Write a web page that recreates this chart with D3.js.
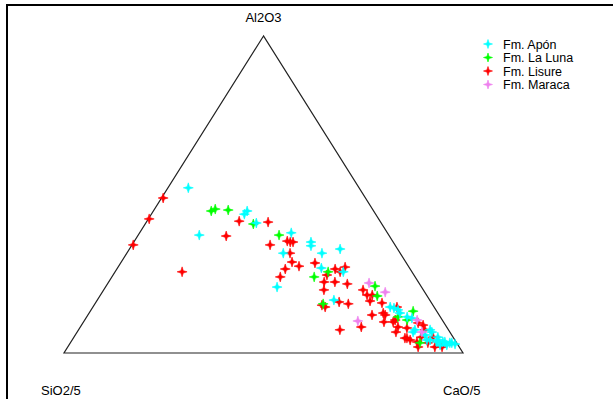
<!DOCTYPE html>
<html>
<head>
<meta charset="utf-8">
<script src="https://cdn.jsdelivr.net/npm/d3@7"></script>
<style>
  html, body { margin: 0; padding: 0; background: #fff; }
  svg { display: block; }
  text { font-family: "Liberation Sans", Arial, Helvetica, sans-serif; fill: #000; }
</style>
</head>
<body>
<svg id="chart" width="613" height="399"></svg>
<script>
// Ternary compositions in percent: [Al2O3, SiO2/5, CaO/5]
const apon = [
  [52.1, 42.8, 5.1], [37.2, 47.5, 15.3], [43.8, 32.9, 23.3], [44.8, 31.7, 23.5],
  [41.0, 31.3, 27.7], [37.9, 24.1, 38.0], [35.0, 20.6, 44.4], [33.8, 21.2, 45.0],
  [31.5, 29.3, 39.2], [31.5, 19.6, 48.9], [32.8, 14.4, 52.8], [26.8, 22.1, 51.1],
  [25.6, 17.2, 57.2], [20.8, 36.2, 43.0], [16.7, 24.0, 59.3], [14.2, 10.2, 75.6],
  [14.5, 11.0, 74.5], [13.6, 9.5, 76.9], [12.6, 9.5, 77.9], [11.4, 8.3, 80.3],
  [11.0, 7.3, 81.7], [7.3, 8.4, 84.3], [7.3, 4.6, 88.1], [6.6, 9.2, 84.2],
  [6.6, 4.5, 88.9], [5.0, 3.8, 91.2], [4.1, 7.0, 88.9], [4.1, 4.2, 91.7],
  [3.5, 3.3, 93.2], [3.5, 2.8, 93.7], [3.2, 1.7, 95.1], [2.5, 2.8, 94.7],
  [3.5, 4.8, 91.7], [4.1, 6.2, 89.7], [2.5, 4.5, 93.0], [3.2, 1.2, 95.6],
  [2.8, 0.6, 96.6], [5.7, 6.7, 87.6]
];
const laLuna = [
  [44.8, 40.7, 14.5], [45.4, 39.4, 15.2], [45.1, 36.3, 18.6], [40.7, 32.2, 27.1],
  [37.2, 27.5, 35.3], [25.6, 21.0, 53.4], [24.0, 25.3, 50.7], [21.1, 11.5, 67.4],
  [18.0, 12.5, 69.5], [15.5, 27.3, 57.2], [13.2, 5.9, 80.9], [11.4, 10.6, 78.0],
  [3.2, 9.2, 87.6], [10.4, 8.8, 80.8]
];
const lisure = [
  [48.9, 50.7, 0.4], [42.3, 57.5, 0.2], [34.1, 65.6, 0.3], [25.6, 57.6, 16.8],
  [36.9, 40.9, 22.2], [41.6, 35.3, 23.1], [41.3, 28.2, 30.5], [34.1, 31.3, 34.6],
  [35.3, 26.4, 38.3], [35.0, 25.8, 39.2], [35.0, 25.1, 39.9], [31.5, 27.6, 40.9],
  [28.7, 28.5, 42.8], [27.4, 27.4, 45.2], [26.5, 31.3, 42.2], [24.0, 33.8, 42.2],
  [28.4, 22.9, 48.7], [26.5, 18.8, 54.7], [27.1, 16.0, 56.9], [25.6, 18.0, 56.4],
  [24.6, 21.8, 53.6], [22.4, 23.6, 54.0], [22.4, 20.9, 56.7], [21.8, 18.1, 60.1],
  [19.9, 24.9, 55.2], [19.9, 15.1, 65.0], [18.3, 14.9, 66.8], [18.3, 13.6, 68.1],
  [16.4, 15.1, 68.5], [15.8, 12.4, 71.8], [16.1, 23.0, 60.9], [15.5, 21.0, 63.5],
  [14.5, 27.3, 58.2], [14.5, 9.3, 76.2], [12.0, 16.8, 71.2], [8.2, 21.4, 70.4],
  [7.3, 27.2, 65.5], [12.6, 13.7, 73.7], [9.8, 14.9, 75.3], [10.4, 11.8, 77.8],
  [6.6, 13.5, 79.9], [7.9, 10.1, 82.0], [4.7, 11.7, 83.6], [3.5, 9.8, 86.7],
  [7.3, 5.9, 86.8], [5.0, 8.0, 87.0], [3.2, 7.2, 89.6], [1.9, 6.1, 92.0],
  [9.5, 6.5, 84.0], [12.0, 13.5, 74.5], [9.8, 12.6, 77.6], [8.2, 12.2, 79.6],
  [4.1, 11.2, 84.7], [1.9, 10.3, 87.8], [5.0, 5.0, 90.0], [1.9, 4.3, 93.8],
  [8.8, 5.6, 85.6], [4.7, 12.2, 83.1], [15.1, 27.8, 57.1]
];
const maraca = [
  [22.1, 12.5, 65.4], [19.2, 9.9, 70.9], [10.1, 21.3, 68.6], [10.4, 6.3, 83.3],
  [6.6, 7.0, 86.4]
];

const vertexLabels = ["Al2O3", "SiO2/5", "CaO/5"];
const seriesNames = ["Fm. Apón", "Fm. La Luna", "Fm. Lisure", "Fm. Maraca"];
const seriesData = [apon, laLuna, lisure, maraca];
const seriesColors = ["#00ffff", "#00ff00", "#ff0000", "#ee82ee"];
// drawing order: red underneath, then green, cyan, violet on top
const drawOrder = [2, 1, 0, 3];

const svg = d3.select("#chart");

// outer frame (only its top and left edges fall inside the window)
svg.append("rect")
  .attr("x", 7).attr("y", 5)
  .attr("width", 700).attr("height", 500)
  .attr("fill", "none").attr("stroke", "#000").attr("stroke-width", 2);

// ternary projection: Al2O3 sets the height, CaO/5 (+ half Al2O3) the horizontal position
const xScale = d3.scaleLinear().domain([0, 100]).range([64, 463]);
const yScale = d3.scaleLinear().domain([0, 100]).range([353, 36]);
const project = d => {
  const s = d[0] + d[1] + d[2];
  const a = 100 * d[0] / s, c = 100 * d[2] / s;
  return [xScale(c + a / 2), yScale(a)];
};

const corners = [[100, 0, 0], [0, 100, 0], [0, 0, 100]].map(project);
svg.append("path")
  .attr("d", d3.line()(corners) + "Z")
  .attr("fill", "none").attr("stroke", "#222").attr("stroke-width", 1.2);

// vertex labels
svg.append("text").attr("x", corners[0][0]).attr("y", 22)
  .attr("text-anchor", "middle").attr("font-size", 13).text(vertexLabels[0]);
svg.append("text").attr("x", 41).attr("y", 395)
  .attr("font-size", 13).text(vertexLabels[1]);
svg.append("text").attr("x", 443).attr("y", 395)
  .attr("font-size", 13).text(vertexLabels[2]);

// four-pointed star marker
const star = r => {
  const k = r * 0.24;
  return `M0,${-r}L${k},${-k}L${r},0L${k},${k}L0,${r}L${-k},${k}L${-r},0L${-k},${-k}Z`;
};

drawOrder.forEach(i => {
  svg.append("g").selectAll("path")
    .data(seriesData[i])
    .join("path")
    .attr("transform", d => `translate(${project(d)})`)
    .attr("d", star(5))
    .attr("fill", seriesColors[i])
    .attr("stroke", seriesColors[i])
    .attr("stroke-width", 0.6);
});

// legend
const legendY = d3.scaleLinear().domain([0, 1]).range([44, 57.5]);
const legend = svg.append("g");
seriesNames.forEach((name, i) => {
  legend.append("path")
    .attr("transform", `translate(488,${legendY(i)})`)
    .attr("d", star(4.5))
    .attr("fill", seriesColors[i]).attr("stroke", seriesColors[i]).attr("stroke-width", 0.6);
  legend.append("text")
    .attr("x", 503).attr("y", legendY(i) + 4.5)
    .attr("font-size", 12.5).text(name);
});
</script>
</body>
</html>
